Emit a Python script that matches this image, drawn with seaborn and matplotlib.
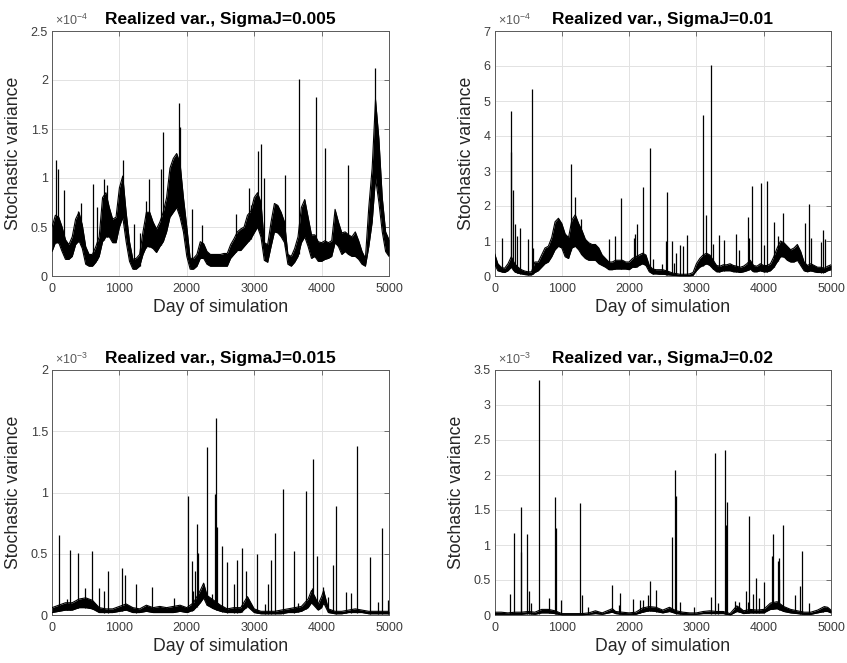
import numpy as np
import pandas as pd
import matplotlib
matplotlib.use("Agg")
import matplotlib.pyplot as plt
import seaborn as sns
from matplotlib.ticker import FuncFormatter, MultipleLocator

sns.set_theme(style="white")
plt.rcParams["font.family"] = ["Liberation Sans", "DejaVu Sans"]
plt.rcParams["mathtext.default"] = "regular"

# ---------------------------------------------------------------------------
# Simulated realized variance: lower / upper envelope of the daily trace
# (values in units of the axis exponent) and the jump spikes (day, peak).
# ---------------------------------------------------------------------------
grid50 = np.arange(0, 5001, 50)

# SigmaJ = 0.005  (x 1e-4)
sj005_lo = [0.25, 0.34, 0.34, 0.25, 0.17, 0.17, 0.20, 0.32, 0.36, 0.28,
            0.12, 0.10, 0.10, 0.14, 0.20, 0.35, 0.40, 0.40, 0.34, 0.34,
            0.50, 0.60, 0.35, 0.15, 0.07, 0.07, 0.10, 0.22, 0.30, 0.30,
            0.28, 0.24, 0.30, 0.35, 0.45, 0.60, 0.65, 0.70, 0.60, 0.45,
            0.20, 0.07, 0.07, 0.10, 0.18, 0.18, 0.12, 0.10, 0.10, 0.10,
            0.10, 0.10, 0.10, 0.18, 0.22, 0.26, 0.26, 0.30, 0.34, 0.38,
            0.44, 0.50, 0.40, 0.16, 0.14, 0.30, 0.45, 0.44, 0.40, 0.34,
            0.12, 0.10, 0.14, 0.20, 0.34, 0.40, 0.30, 0.18, 0.20, 0.15,
            0.15, 0.17, 0.18, 0.20, 0.34, 0.30, 0.22, 0.25, 0.22, 0.20,
            0.20, 0.17, 0.12, 0.10, 0.30, 0.55, 1.00, 0.75, 0.45, 0.25,
            0.20]
sj005_hi = [0.50, 0.62, 0.60, 0.50, 0.37, 0.32, 0.40, 0.58, 0.65, 0.52,
            0.30, 0.22, 0.22, 0.30, 0.40, 0.80, 0.85, 0.70, 0.58, 0.60,
            0.90, 1.02, 0.65, 0.35, 0.17, 0.18, 0.22, 0.45, 0.65, 0.65,
            0.55, 0.48, 0.55, 0.65, 0.80, 1.10, 1.20, 1.25, 1.15, 0.80,
            0.50, 0.18, 0.18, 0.22, 0.35, 0.33, 0.25, 0.22, 0.22, 0.22,
            0.22, 0.23, 0.23, 0.32, 0.38, 0.45, 0.48, 0.50, 0.62, 0.66,
            0.80, 0.85, 0.75, 0.34, 0.32, 0.55, 0.74, 0.72, 0.65, 0.55,
            0.22, 0.20, 0.28, 0.40, 0.70, 0.78, 0.60, 0.42, 0.42, 0.35,
            0.34, 0.36, 0.34, 0.36, 0.68, 0.55, 0.44, 0.45, 0.42, 0.40,
            0.45, 0.36, 0.25, 0.18, 0.70, 1.10, 1.80, 1.40, 0.80, 0.45,
            0.37]
sj005_jump_days = [64, 90, 173, 385, 430, 612, 667, 770, 820, 1047, 1215, 1300,
                   1388, 1437, 1620, 1654, 1881, 1896, 2074, 2227, 2728, 2916,
                   2950, 3059, 3094, 3139, 3460, 3658, 3911, 4054, 4396, 4797]
sj005_jump_tops = [1.18, 1.09, 0.88, 0.66, 0.74, 0.94, 0.70, 0.99, 0.93, 1.18, 0.53, 0.44,
                   0.77, 0.99, 1.09, 1.47, 1.77, 1.52, 0.68, 0.52, 0.63, 0.90,
                   0.72, 1.28, 1.35, 1.00, 1.03, 2.01, 1.83, 1.31, 1.13, 2.12]

# SigmaJ = 0.01  (x 1e-4)
sj010_lo = [0.35, 0.15, 0.12, 0.10, 0.15, 0.25, 0.12, 0.08, 0.06, 0.04,
            0.03, 0.03, 0.10, 0.15, 0.25, 0.35, 0.40, 0.55, 0.75, 0.85,
            0.80, 0.55, 0.50, 0.80, 0.85, 0.75, 0.60, 0.50, 0.45, 0.45,
            0.45, 0.35, 0.30, 0.25, 0.18, 0.18, 0.20, 0.20, 0.20, 0.20,
            0.18, 0.25, 0.25, 0.30, 0.35, 0.30, 0.12, 0.06, 0.06, 0.05,
            0.05, 0.04, 0.03, 0.02, 0.01, 0.00, 0.00, 0.00, 0.00, 0.02,
            0.15, 0.25, 0.30, 0.35, 0.30, 0.20, 0.12, 0.12, 0.15, 0.15,
            0.15, 0.12, 0.12, 0.10, 0.12, 0.15, 0.20, 0.12, 0.12, 0.15,
            0.12, 0.12, 0.15, 0.25, 0.40, 0.55, 0.55, 0.45, 0.40, 0.40,
            0.45, 0.30, 0.15, 0.12, 0.15, 0.12, 0.10, 0.10, 0.10, 0.15,
            0.18]
sj010_hi = [0.65, 0.35, 0.25, 0.22, 0.35, 0.55, 0.35, 0.25, 0.18, 0.14,
            0.12, 0.12, 0.40, 0.40, 0.60, 0.80, 0.85, 1.10, 1.55, 1.65,
            1.50, 1.20, 1.10, 1.60, 1.75, 1.50, 1.30, 1.05, 0.95, 0.90,
            0.90, 0.80, 0.60, 0.50, 0.40, 0.40, 0.45, 0.45, 0.45, 0.40,
            0.40, 0.50, 0.55, 0.60, 0.65, 0.60, 0.30, 0.20, 0.18, 0.18,
            0.18, 0.15, 0.12, 0.08, 0.07, 0.05, 0.05, 0.05, 0.06, 0.10,
            0.35, 0.50, 0.60, 0.65, 0.60, 0.45, 0.30, 0.28, 0.32, 0.32,
            0.35, 0.30, 0.28, 0.25, 0.28, 0.35, 0.45, 0.30, 0.28, 0.35,
            0.30, 0.30, 0.35, 0.55, 0.80, 1.00, 0.95, 0.85, 0.75, 0.80,
            0.90, 0.70, 0.40, 0.30, 0.35, 0.30, 0.25, 0.25, 0.22, 0.28,
            0.32]
sj010_jump_days = [109, 247, 252, 277, 301, 341, 385, 494, 563, 570, 948, 1141,
                   1200, 1290, 1694, 1793, 1881, 2074, 2089, 2119, 2207, 2306,
                   2360, 2495, 2550, 2569, 2639, 2668, 2703, 2757, 2802, 2856,
                   3099, 3149, 3213, 3248, 3332, 3416, 3594, 3634, 3767, 3782,
                   3827, 3965, 4010, 4054, 4153, 4208, 4292, 4614, 4668, 4703,
                   4856, 4886, 4911]
sj010_jump_tops = [1.10, 3.53, 4.72, 2.47, 1.49, 1.15, 1.37, 1.05, 5.34, 0.80, 1.63, 3.20,
                   2.27, 1.63, 1.06, 1.15, 2.23, 1.10, 1.20, 1.48, 2.54, 3.67,
                   0.48, 0.34, 1.00, 2.39, 1.00, 0.37, 0.65, 0.90, 0.87, 1.17,
                   4.60, 1.75, 6.03, 0.91, 1.18, 1.03, 1.20, 0.75, 1.70, 1.10,
                   2.58, 2.66, 0.90, 2.71, 1.55, 1.13, 1.79, 1.51, 2.06, 1.10,
                   0.98, 1.32, 1.06]

# SigmaJ = 0.015  (x 1e-3)
sj015_days = [0, 100, 200, 300, 400, 500, 600, 700, 800, 900,
              1000, 1100, 1200, 1300, 1400, 1500, 1600, 1700, 1800, 1900,
              2000, 2100, 2200, 2250, 2300, 2400, 2500, 2600, 2700, 2800,
              2900, 3000, 3100, 3200, 3300, 3400, 3500, 3600, 3700, 3800,
              3850, 3900, 3950, 4000, 4030, 4100, 4200, 4300, 4400, 4500,
              4600, 4700, 4800, 4900, 5000]
sj015_lo = [0.02, 0.03, 0.04, 0.04, 0.06, 0.06, 0.05, 0.02, 0.02, 0.02,
            0.03, 0.04, 0.02, 0.02, 0.03, 0.02, 0.02, 0.02, 0.02, 0.03,
            0.02, 0.04, 0.10, 0.14, 0.08, 0.05, 0.03, 0.02, 0.02, 0.02,
            0.07, 0.02, 0.01, 0.01, 0.01, 0.01, 0.02, 0.02, 0.03, 0.06,
            0.10, 0.07, 0.04, 0.06, 0.10, 0.02, 0.01, 0.01, 0.02, 0.02,
            0.02, 0.01, 0.01, 0.01, 0.01]
sj015_hi = [0.06, 0.08, 0.10, 0.10, 0.13, 0.14, 0.12, 0.06, 0.05, 0.05,
            0.07, 0.09, 0.06, 0.05, 0.08, 0.06, 0.07, 0.06, 0.07, 0.08,
            0.06, 0.10, 0.20, 0.26, 0.16, 0.12, 0.08, 0.05, 0.06, 0.06,
            0.15, 0.05, 0.03, 0.03, 0.03, 0.04, 0.05, 0.06, 0.07, 0.13,
            0.20, 0.15, 0.09, 0.15, 0.20, 0.05, 0.03, 0.03, 0.04, 0.05,
            0.04, 0.03, 0.03, 0.03, 0.03]
sj015_jump_days = [109, 217, 272, 380, 484, 598, 691, 770, 835, 1037, 1077, 1240,
                   1491, 1807, 2020, 2074, 2094, 2128, 2148, 2173, 2301, 2380,
                   2425, 2440, 2454, 2525, 2599, 2698, 2738, 2812, 2871, 3045,
                   3153, 3198, 3243, 3307, 3421, 3584, 3653, 3762, 3851, 3871,
                   3931, 4025, 4089, 4163, 4213, 4361, 4441, 4525, 4723, 4832,
                   4891, 4985]
sj015_jump_tops = [0.65, 0.13, 0.53, 0.51, 0.22, 0.52, 0.22, 0.20, 0.36, 0.38, 0.33, 0.25,
                   0.23, 0.14, 0.97, 0.44, 0.20, 0.36, 0.74, 0.51, 1.37, 0.17,
                   0.99, 1.61, 0.72, 0.56, 0.43, 0.25, 0.45, 0.55, 0.36, 0.50,
                   0.09, 0.25, 0.45, 0.67, 1.03, 0.52, 0.10, 1.01, 0.22, 1.27,
                   0.48, 0.23, 0.15, 0.41, 0.89, 0.19, 0.18, 1.38, 0.47, 0.11,
                   0.71, 0.12]

# SigmaJ = 0.02  (x 1e-3)
sj020_days = [0, 100, 200, 300, 400, 500, 600, 700, 800, 900,
              1000, 1100, 1200, 1300, 1400, 1500, 1600, 1700, 1750, 1800,
              1900, 2000, 2100, 2200, 2300, 2400, 2500, 2600, 2700, 2800,
              2900, 3000, 3100, 3200, 3300, 3400, 3500, 3600, 3650, 3700,
              3800, 3900, 4000, 4100, 4200, 4300, 4400, 4500, 4600, 4700,
              4800, 4900, 4950, 5000]
sj020_lo = [0.01, 0.01, 0.01, 0.01, 0.01, 0.02, 0.01, 0.03, 0.03, 0.02,
            0.00, 0.00, 0.00, 0.00, 0.01, 0.02, 0.01, 0.03, 0.04, 0.02,
            0.01, 0.01, 0.01, 0.04, 0.06, 0.05, 0.03, 0.05, 0.02, 0.01,
            0.01, 0.01, 0.02, 0.02, 0.02, 0.02, 0.00, 0.05, 0.04, 0.02,
            0.03, 0.03, 0.03, 0.08, 0.09, 0.05, 0.03, 0.02, 0.01, 0.01,
            0.03, 0.05, 0.05, 0.03]
sj020_hi = [0.04, 0.04, 0.03, 0.04, 0.04, 0.05, 0.04, 0.08, 0.08, 0.06,
            0.02, 0.02, 0.02, 0.02, 0.03, 0.06, 0.03, 0.07, 0.09, 0.05,
            0.04, 0.03, 0.04, 0.10, 0.12, 0.11, 0.07, 0.11, 0.06, 0.04,
            0.03, 0.03, 0.05, 0.06, 0.05, 0.05, 0.02, 0.13, 0.10, 0.06,
            0.08, 0.07, 0.08, 0.17, 0.19, 0.12, 0.08, 0.06, 0.04, 0.04,
            0.07, 0.12, 0.11, 0.07]
sj020_jump_days = [232, 291, 390, 395, 479, 519, 538, 657, 810, 904, 919, 988,
                   1269, 1299, 1388, 1753, 1847, 1867, 2064, 2163, 2202, 2277,
                   2311, 2405, 2639, 2688, 2703, 2762, 2960, 3213, 3272, 3327,
                   3431, 3446, 3450, 3579, 3634, 3743, 3772, 3782, 3837, 3891,
                   3931, 4000, 4119, 4134, 4208, 4223, 4233, 4287, 4465, 4540,
                   4574, 4678, 4886]
sj020_jump_tops = [0.30, 1.17, 0.90, 1.55, 1.16, 0.34, 0.17, 3.35, 0.24, 1.69, 1.25, 0.21,
                   1.60, 0.28, 0.11, 0.43, 0.14, 0.31, 0.23, 0.22, 0.22, 0.28,
                   0.48, 0.36, 1.12, 2.07, 1.70, 0.18, 0.11, 0.26, 2.32, 0.17,
                   2.36, 1.29, 1.62, 0.20, 0.19, 0.34, 0.19, 1.41, 0.30, 0.53,
                   0.24, 0.47, 0.84, 1.16, 0.77, 0.52, 0.81, 1.29, 0.28, 0.42,
                   0.92, 0.17, 0.10]

titles = ["Realized var., SigmaJ=0.005", "Realized var., SigmaJ=0.01",
          "Realized var., SigmaJ=0.015", "Realized var., SigmaJ=0.02"]

panels = [
    dict(days=grid50, lo=sj005_lo, hi=sj005_hi, jd=sj005_jump_days, jt=sj005_jump_tops,
         exp=-4, ymax=2.5, ystep=0.5),
    dict(days=grid50, lo=sj010_lo, hi=sj010_hi, jd=sj010_jump_days, jt=sj010_jump_tops,
         exp=-4, ymax=7, ystep=1),
    dict(days=sj015_days, lo=sj015_lo, hi=sj015_hi, jd=sj015_jump_days, jt=sj015_jump_tops,
         exp=-3, ymax=2, ystep=0.5),
    dict(days=sj020_days, lo=sj020_lo, hi=sj020_hi, jd=sj020_jump_days, jt=sj020_jump_tops,
         exp=-3, ymax=3.5, ystep=0.5),
]

W, H = 847, 663
boxes = [(52, 31, 389, 276), (494.5, 31, 831, 276),
         (52, 370, 389, 615), (494.5, 370, 831, 615)]

fig = plt.figure(figsize=(W / 100, H / 100), dpi=100)
fig.patch.set_facecolor("white")

spine_col = "#5a5a5a"
tick_lbl_col = "#3c3c3c"

for (x0, y0, x1, y1), title, p in zip(boxes, titles, panels):
    ax = fig.add_axes([x0 / W, 1 - y1 / H, (x1 - x0) / W, (y1 - y0) / H])
    scale = 10.0 ** p["exp"]
    days = np.asarray(p["days"], dtype=float)
    lo = np.asarray(p["lo"]) * scale
    hi = np.asarray(p["hi"]) * scale

    # dense daily trace shown as its envelope band
    ax.fill_between(days, lo, hi, color="black", lw=0, zorder=3)
    edges = pd.DataFrame({
        "day": np.concatenate([days, days]),
        "value": np.concatenate([lo, hi]),
        "edge": ["low"] * len(days) + ["high"] * len(days),
    })
    sns.lineplot(data=edges, x="day", y="value", units="edge", estimator=None,
                 color="black", lw=0.8, ax=ax, zorder=3, legend=False)

    # jump spikes rise from the trace
    jd = np.asarray(p["jd"], dtype=float)
    jt = np.asarray(p["jt"]) * scale
    ax.vlines(jd, np.interp(jd, days, lo), jt, color="black", lw=0.9, zorder=3)

    ax.set_xlim(0, 5000)
    ax.set_ylim(0, p["ymax"] * scale)
    ax.xaxis.set_major_locator(MultipleLocator(1000))
    ax.yaxis.set_major_locator(MultipleLocator(p["ystep"] * scale))
    ax.yaxis.set_major_formatter(FuncFormatter(lambda v, _, s=scale: f"{v / s:g}"))

    ax.grid(True, color="#e2e2e2", lw=0.7)
    ax.set_axisbelow(True)
    ax.tick_params(direction="in", top=True, right=True, length=3.5, width=0.6,
                   color=spine_col, labelcolor=tick_lbl_col, labelsize=9)
    ax.tick_params(axis="x", pad=5)
    ax.tick_params(axis="y", pad=3)
    for s in ax.spines.values():
        s.set_color(spine_col)
        s.set_linewidth(0.7)

    ax.set_title(title, fontweight="bold", fontsize=12.5, pad=5, color="black")
    ax.set_xlabel("Day of simulation", fontsize=12.7, color="#262626", labelpad=3)
    ax.set_ylabel("Stochastic variance", fontsize=12.7, color="#262626", labelpad=6)
    ax.text(0.01, 1.012, rf"$\times10^{{{p['exp']}}}$", transform=ax.transAxes,
            fontsize=9, color="#5a5a5a", va="bottom", ha="left")

fig.savefig("out.png", dpi=100)
